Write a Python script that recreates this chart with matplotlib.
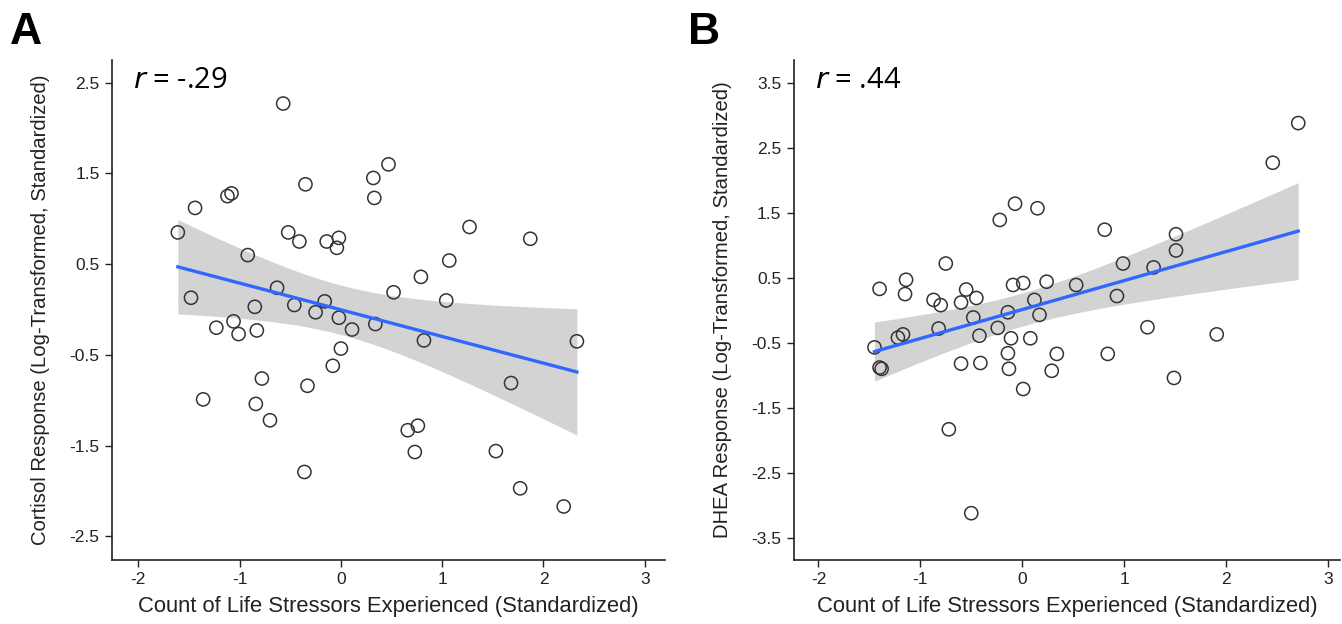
import numpy as np
import matplotlib
matplotlib.use('Agg')
import matplotlib.pyplot as plt

plt.rcParams['font.family'] = ['Liberation Sans', 'DejaVu Sans']
plt.rcParams['mathtext.fontset'] = 'dejavusans'

# panel A: cortisol
stress_a = [-1.61, -1.48, -1.44, -1.36, -1.23, -1.12, -1.08, -1.06, -1.01, -0.92,
            -0.85, -0.83, -0.84, -0.78, -0.70, -0.63, -0.57, -0.52, -0.46, -0.41,
            -0.35, -0.36, -0.33, -0.25, -0.16, -0.14, -0.08, -0.04, -0.02, -0.02,
            0.00, 0.11, 0.32, 0.33, 0.34, 0.47, 0.52, 0.66, 0.76, 0.73,
            0.79, 0.82, 1.04, 1.07, 1.27, 1.53, 1.68, 1.77, 1.87, 2.20, 2.33]
cortisol = [0.85, 0.13, 1.12, -0.99, -0.20, 1.25, 1.28, -0.13, -0.27, 0.60,
            0.03, -0.23, -1.04, -0.76, -1.22, 0.24, 2.27, 0.85, 0.05, 0.75,
            1.38, -1.79, -0.84, -0.03, 0.09, 0.75, -0.62, 0.68, 0.79, -0.09,
            -0.43, -0.22, 1.45, 1.23, -0.16, 1.60, 0.19, -1.33, -1.28, -1.57,
            0.36, -0.34, 0.10, 0.54, 0.91, -1.56, -0.81, -1.97, 0.78, -2.17, -0.35]

# panel B: DHEA
stress_b = [-1.45, -1.40, -1.38, -1.40, -1.22, -1.17, -1.14, -1.15, -0.87, -0.80,
            -0.82, -0.75, -0.72, -0.60, -0.55, -0.45, -0.48, -0.42, -0.60, -0.41,
            -0.50, -0.24, -0.22, -0.07, 0.15, -0.14, -0.11, -0.09, 0.01, -0.14,
            -0.13, 0.01, 0.08, 0.12, 0.17, 0.24, 0.34, 0.29, 0.53, 0.81,
            0.93, 0.99, 0.84, 1.23, 1.29, 1.51, 1.51, 1.49, 1.91, 2.46, 2.71]
dhea = [-0.57, -0.88, -0.90, 0.33, -0.42, -0.37, 0.47, 0.25, 0.16, 0.08,
        -0.28, 0.72, -1.83, 0.12, 0.32, 0.19, -0.11, -0.39, -0.82, -0.81,
        -3.12, -0.27, 1.39, 1.64, 1.57, -0.03, -0.43, 0.39, 0.42, -0.66,
        -0.90, -1.21, -0.43, 0.16, -0.07, 0.44, -0.67, -0.93, 0.39, 1.24,
        0.22, 0.72, -0.67, -0.26, 0.66, 1.17, 0.92, -1.04, -0.37, 2.27, 2.88]

panels = [
    dict(x=stress_a, y=cortisol, label='A', r='-.29',
         ylabel='Cortisol Response (Log-Transformed, Standardized)',
         yticks=[-2.5, -1.5, -0.5, 0.5, 1.5, 2.5], xlim=(-2.26, 3.2), ylim=(-2.76, 2.75),
         rect=[112 / 1342, 64 / 624, 553 / 1342, 500 / 624], letter_x=10),
    dict(x=stress_b, y=dhea, label='B', r='.44',
         ylabel='DHEA Response (Log-Transformed, Standardized)',
         yticks=[-3.5, -2.5, -1.5, -0.5, 0.5, 1.5, 2.5, 3.5], xlim=(-2.24, 3.12), ylim=(-3.84, 3.85),
         rect=[794 / 1342, 64 / 624, 546 / 1342, 500 / 624], letter_x=688),
]

fig = plt.figure(figsize=(13.42, 6.24), dpi=100)

for p in panels:
    ax = fig.add_axes(p['rect'])
    x = np.array(p['x'])
    y = np.array(p['y'])
    n = len(x)
    # linear fit with 95% confidence band (t, df = n - 2)
    slope, icpt = np.polyfit(x, y, 1)
    xs = np.linspace(x.min(), x.max(), 100)
    yhat = icpt + slope * xs
    resid = y - (icpt + slope * x)
    s = np.sqrt(np.sum(resid ** 2) / (n - 2))
    sxx = np.sum((x - x.mean()) ** 2)
    se = s * np.sqrt(1 / n + (xs - x.mean()) ** 2 / sxx)
    t = 2.0096
    ax.fill_between(xs, yhat - t * se, yhat + t * se, color='#d3d3d3', lw=0, zorder=1)
    ax.scatter(x, y, s=90, facecolors='none', edgecolors='#333333', linewidths=1.1, zorder=2)
    ax.plot(xs, yhat, color='#3366ff', lw=2.4, zorder=3)

    ax.set_xlim(p['xlim'])
    ax.set_ylim(p['ylim'])
    ax.set_xticks([-2, -1, 0, 1, 2, 3])
    ax.set_xticklabels(['-2', '-1', '0', '1', '2', '3'])
    ax.set_yticks(p['yticks'])
    ax.set_yticklabels([('%.1f' % v) for v in p['yticks']])
    for side in ['top', 'right']:
        ax.spines[side].set_visible(False)
    for side in ['left', 'bottom']:
        ax.spines[side].set_linewidth(1.2)
        ax.spines[side].set_color('#222222')
    ax.tick_params(direction='out', length=5, width=1, colors='#222222', labelsize=12.5, pad=4)
    ax.set_xlabel('Count of Life Stressors Experienced (Standardized)', fontsize=15.8, color='#222222', labelpad=6)
    ax.set_ylabel(p['ylabel'], fontsize=14.6, color='#222222', labelpad=14)
    ax.text(0.038, 0.96, '$r$ = ' + p['r'], transform=ax.transAxes, fontsize=21,
            ha='left', va='center', family=['Open Sans', 'DejaVu Sans'])
    fig.text(p['letter_x'] / 1342, 1 - 12 / 624, p['label'], fontsize=32, fontweight='bold',
             ha='left', va='top')

fig.savefig('out.png', dpi=100)
